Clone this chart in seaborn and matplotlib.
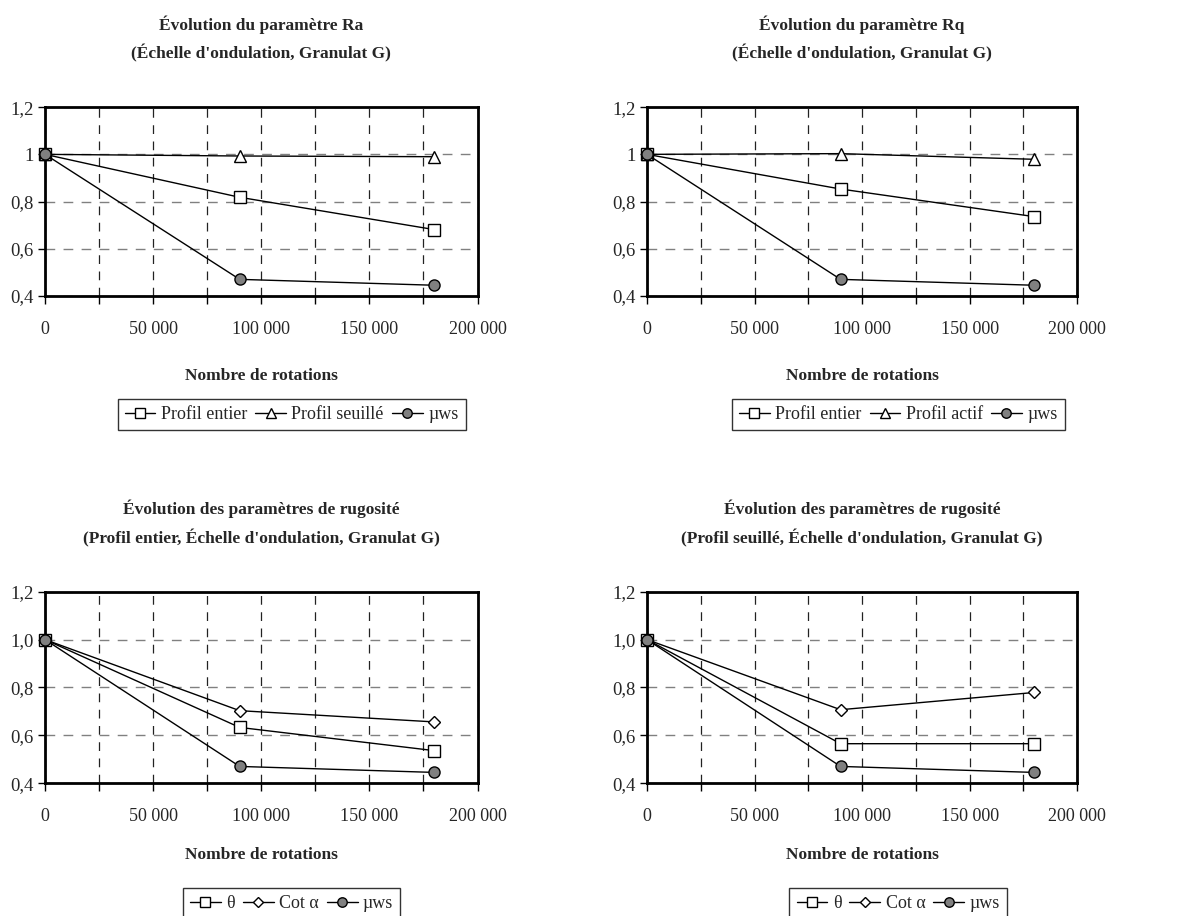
"""
Évolution des paramètres de rugosité (échelle d'ondulation, granulat G):
four panels, ratio vs number of rotations.
"""

import matplotlib
matplotlib.use("Agg")
import matplotlib.pyplot as plt
import seaborn as sns

# data
rotations = [0, 90000, 180000]

ra_entier = [1.0, 0.818, 0.681]
ra_seuille = [1.0, 0.993, 0.990]
rq_entier = [1.0, 0.853, 0.736]
rq_actif = [1.0, 1.003, 0.979]
entier_theta = [1.0, 0.633, 0.536]
entier_cot = [1.0, 0.703, 0.656]
seuille_theta = [1.0, 0.565, 0.565]
seuille_cot = [1.0, 0.707, 0.779]
mu_ws = [1.0, 0.470, 0.445]

x_ticks = [0, 50000, 100000, 150000, 200000]
x_tick_labels = ["0", "50 000", "100 000", "150 000", "200 000"]
x_minor = [25000, 75000, 125000, 175000]
y_ticks = [0.4, 0.6, 0.8, 1.0, 1.2]
y_labels_top = ["0,4", "0,6", "0,8", "1", "1,2"]
y_labels_bottom = ["0,4", "0,6", "0,8", "1,0", "1,2"]

titles = [
    "Évolution du paramètre Ra\n(Échelle d'ondulation, Granulat G)",
    "Évolution du paramètre Rq\n(Échelle d'ondulation, Granulat G)",
    "Évolution des paramètres de rugosité\n(Profil entier, Échelle d'ondulation, Granulat G)",
    "Évolution des paramètres de rugosité\n(Profil seuillé, Échelle d'ondulation, Granulat G)",
]

MARKERS = {
    "s": dict(marker="s", markerfacecolor="white"),
    "^": dict(marker="^", markerfacecolor="white"),
    "D": dict(marker="D", markerfacecolor="white", markersize=6.5),
    "o": dict(marker="o", markerfacecolor="#808080"),
}

sns.set_style("white")
plt.rcParams["font.family"] = ["Liberation Serif", "DejaVu Serif"]


def draw_panel(ax, series, title, y_labels, legend_x, xlabel_pad):
    for label, values, mk in series:
        style = dict(markersize=8, markeredgecolor="black", markeredgewidth=1)
        style.update(MARKERS[mk])
        sns.lineplot(x=rotations, y=values, ax=ax, color="black", linewidth=1,
                     label=label, clip_on=False, zorder=3, **style)

    ax.set_xlim(0, 200000)
    ax.set_ylim(0.4, 1.2)
    ax.set_xticks(x_ticks)
    ax.set_xticklabels(x_tick_labels, fontsize=13)
    ax.set_xticks(x_minor, minor=True)
    ax.set_yticks(y_ticks)
    ax.set_yticklabels(y_labels, fontsize=13.5)
    ax.tick_params(axis="x", which="both", direction="out", length=6, width=1,
                   pad=12, bottom=True, color="black")
    ax.tick_params(axis="y", direction="out", length=5, width=1, pad=3,
                   left=True, color="black")

    ax.set_axisbelow(True)
    ax.grid(axis="x", which="both", color="#222222", linewidth=0.9,
            linestyle=(0, (7, 6)))
    ax.grid(axis="y", color="#808080", linewidth=1, linestyle=(0, (7, 6)))
    for sp in ax.spines.values():
        sp.set_visible(True)
        sp.set_color("black")
        sp.set_linewidth(2)

    ax.set_title(title, fontsize=12.5, fontweight="bold", pad=35, linespacing=1.75)
    ax.set_xlabel("Nombre de rotations", fontsize=12.5, fontweight="bold",
                  labelpad=xlabel_pad)
    ax.set_ylabel("")

    leg = ax.legend(loc="center", bbox_to_anchor=(legend_x, -0.63), ncol=3,
                    frameon=True, fancybox=False, edgecolor="black",
                    fontsize=13, handlelength=1.7, handletextpad=0.3,
                    columnspacing=0.45, borderpad=0.4, markerscale=0.85)
    leg.get_frame().set_linewidth(1)


fig = plt.figure(figsize=(11.85, 9.16), dpi=100)
ax_tl = fig.add_axes([0.038, 0.677, 0.365, 0.206])
ax_tr = fig.add_axes([0.546, 0.677, 0.363, 0.206])
ax_bl = fig.add_axes([0.038, 0.145, 0.365, 0.209])
ax_br = fig.add_axes([0.546, 0.145, 0.363, 0.209])

draw_panel(ax_tl, [("Profil entier", ra_entier, "s"),
                   ("Profil seuillé", ra_seuille, "^"),
                   ("µws", mu_ws, "o")],
           titles[0], y_labels_top, 0.57, 22)
draw_panel(ax_tr, [("Profil entier", rq_entier, "s"),
                   ("Profil actif", rq_actif, "^"),
                   ("µws", mu_ws, "o")],
           titles[1], y_labels_top, 0.584, 22)
draw_panel(ax_bl, [("θ", entier_theta, "s"),
                   ("Cot α", entier_cot, "D"),
                   ("µws", mu_ws, "o")],
           titles[2], y_labels_bottom, 0.57, 16)
draw_panel(ax_br, [("θ", seuille_theta, "s"),
                   ("Cot α", seuille_cot, "D"),
                   ("µws", mu_ws, "o")],
           titles[3], y_labels_bottom, 0.584, 16)

fig.savefig("out.png", dpi=100)
